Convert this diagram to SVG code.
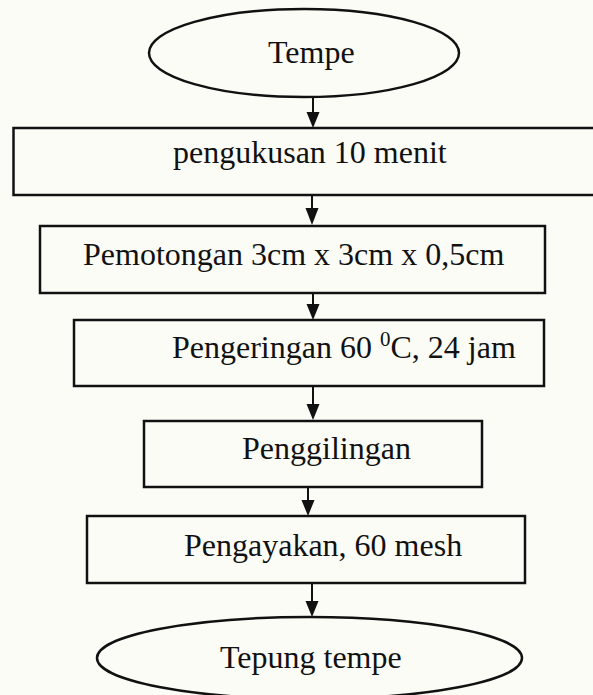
<svg xmlns="http://www.w3.org/2000/svg" width="593" height="695" viewBox="0 0 593 695">
<style>
.box{fill:none;stroke:#111;stroke-width:2.5}
.t{font-family:"Liberation Serif","Times New Roman",serif;font-size:32px;fill:#111}
.c{stroke:#111;stroke-width:2;fill:none}
</style>
<defs>
<marker id="ah" markerWidth="13" markerHeight="16" refX="6.5" refY="16" orient="auto-start-reverse" markerUnits="userSpaceOnUse" viewBox="0 0 13 16">
<path d="M0,0 L13,0 L6.5,16 Z" fill="#111" transform="rotate(0)"/>
</marker>
</defs>
<rect width="593" height="695" fill="#fcfcf7"/>
<g id="connectors">
<path class="c" d="M313,97 V112"/><path d="M306.5,112 H319.5 L313,128 Z" fill="#111"/>
<path class="c" d="M312,195 V208"/><path d="M305.5,208 H318.5 L312,225 Z" fill="#111"/>
<path class="c" d="M313,293 V304"/><path d="M306.5,304 H319.5 L313,320 Z" fill="#111"/>
<path class="c" d="M313,386 V404"/><path d="M306.5,404 H319.5 L313,420 Z" fill="#111"/>
<path class="c" d="M308,487 V500"/><path d="M301.5,500 H314.5 L308,516 Z" fill="#111"/>
<path class="c" d="M312,583 V601"/><path d="M305.5,601 H318.5 L312,617 Z" fill="#111"/>
</g>
<g id="tempe">
<ellipse class="box" cx="304" cy="53" rx="155" ry="44"/>
<text class="t" x="268" y="63">Tempe</text>
</g>
<g id="pengukusan">
<rect class="box" x="13.5" y="128" width="590" height="67"/>
<text class="t" x="173" y="163">pengukusan 10 menit</text>
</g>
<g id="pemotongan">
<rect class="box" x="40" y="226" width="505" height="67"/>
<text class="t" x="83" y="265">Pemotongan 3cm x 3cm x 0,5cm</text>
</g>
<g id="pengeringan">
<rect class="box" x="74" y="320" width="470" height="66"/>
<text class="t" x="172" y="358">Pengeringan 60 <tspan font-size="21" dy="-12">0</tspan><tspan dy="12">C, 24 jam</tspan></text>
</g>
<g id="penggilingan">
<rect class="box" x="144" y="421" width="338" height="66"/>
<text class="t" x="242" y="459">Penggilingan</text>
</g>
<g id="pengayakan">
<rect class="box" x="87" y="516" width="438" height="67"/>
<text class="t" x="184" y="556">Pengayakan, 60 mesh</text>
</g>
<g id="tepung">
<ellipse class="box" cx="309.5" cy="658" rx="212.5" ry="41"/>
<text class="t" x="220" y="668">Tepung tempe</text>
</g>
</svg>
